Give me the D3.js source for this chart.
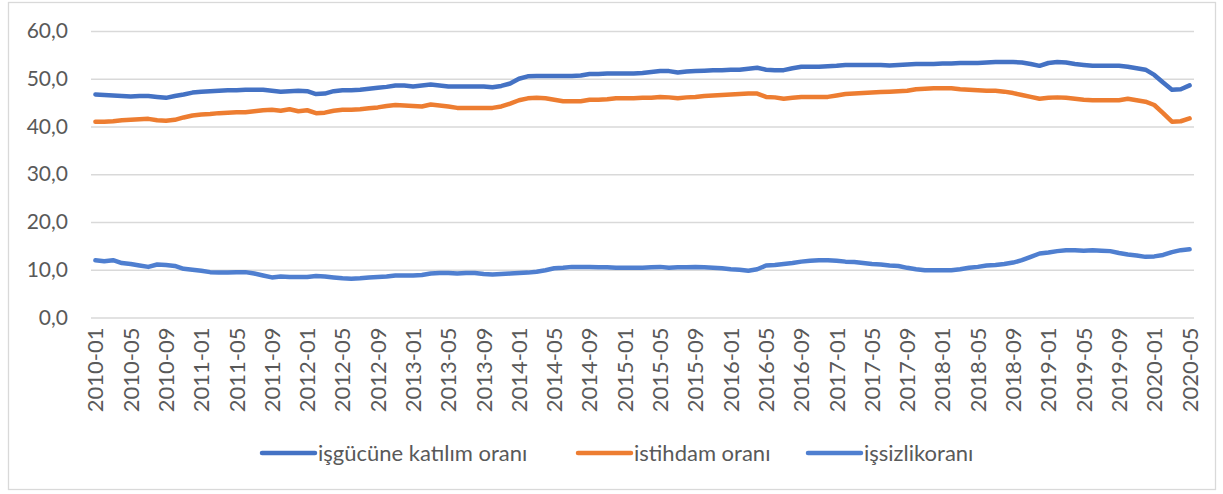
<!DOCTYPE html>
<html lang="tr">
<head>
    <meta charset="UTF-8">
    <title>İşgücü göstergeleri</title>
    <script src="https://cdn.jsdelivr.net/npm/d3@7/dist/d3.min.js"></script>
    <style>
        body { margin: 0; background: #fff; }
        svg { display: block; font-family: Lato, "Open Sans", sans-serif; }
    </style>
</head>
<body>
<script>
    // aylik veriler, 2010-01 .. 2020-05
    const firstMonth = new Date(2010, 0, 1);
    const lastMonth = new Date(2020, 4, 1);

    const yTicks = [0, 10, 20, 30, 40, 50, 60];
    const seriesNames = ['işgücüne katılım oranı', 'istihdam oranı', 'işsizlikoranı'];
    const seriesColors = ['#4472C4', '#ED7D31', '#4F7FD0'];

    // isgucune katilim orani
    const katilim = [
        46.7, 46.6, 46.5, 46.4, 46.3, 46.4, 46.4, 46.2, 46.0, 46.4, 46.7, 47.1,
        47.3, 47.4, 47.5, 47.6, 47.6, 47.7, 47.7, 47.7, 47.5, 47.3, 47.4, 47.5,
        47.4, 46.8, 46.9, 47.4, 47.6, 47.6, 47.7, 47.9, 48.1, 48.3, 48.6, 48.6,
        48.4, 48.6, 48.8, 48.6, 48.4, 48.4, 48.4, 48.4, 48.4, 48.2, 48.5, 49.0,
        50.0, 50.5, 50.6, 50.6, 50.6, 50.6, 50.6, 50.7, 51.0, 51.0, 51.1, 51.1,
        51.1, 51.1, 51.2, 51.4, 51.6, 51.6, 51.3, 51.5, 51.6, 51.7, 51.8, 51.8,
        51.9, 51.9, 52.1, 52.3, 51.9, 51.8, 51.8, 52.2, 52.5, 52.5, 52.5, 52.6,
        52.7, 52.9, 52.9, 52.9, 52.9, 52.9, 52.8, 52.9, 53.0, 53.1, 53.1, 53.1,
        53.2, 53.2, 53.3, 53.3, 53.3, 53.4, 53.5, 53.5, 53.5, 53.4, 53.1, 52.7,
        53.3, 53.5, 53.4, 53.1, 52.9, 52.7, 52.7, 52.7, 52.7, 52.5, 52.2, 51.9,
        50.8, 49.2, 47.7, 47.8, 48.6
    ];

    // istihdam orani
    const istihdam = [
        41.0, 41.0, 41.1, 41.3, 41.4, 41.5, 41.6, 41.3, 41.2, 41.4, 41.9, 42.3,
        42.5, 42.6, 42.8, 42.9, 43.0, 43.0, 43.2, 43.4, 43.5, 43.3, 43.6, 43.2,
        43.4, 42.8, 42.9, 43.3, 43.5, 43.5, 43.6, 43.8, 44.0, 44.3, 44.5, 44.4,
        44.3, 44.2, 44.6, 44.4, 44.2, 43.9, 43.9, 43.9, 43.9, 43.9, 44.2, 44.8,
        45.5, 45.9, 46.0, 45.9, 45.6, 45.3, 45.3, 45.3, 45.6, 45.6, 45.7, 45.9,
        45.9, 45.9, 46.0, 46.0, 46.2, 46.1, 45.9, 46.1, 46.2, 46.4, 46.5, 46.6,
        46.7, 46.8, 46.9, 46.9, 46.2, 46.1, 45.8, 46.0, 46.2, 46.2, 46.2, 46.2,
        46.5, 46.8, 46.9, 47.0, 47.1, 47.2, 47.3, 47.4, 47.5, 47.8, 47.9, 48.0,
        48.0, 48.0, 47.8, 47.7, 47.6, 47.5, 47.5, 47.3, 47.0, 46.6, 46.2, 45.8,
        46.0, 46.1, 46.0, 45.8, 45.6, 45.5, 45.5, 45.5, 45.5, 45.8, 45.5, 45.2,
        44.5, 42.8, 41.0, 41.1, 41.7
    ];

    // issizlik orani
    const issizlik = [
        12.0, 11.8, 12.0, 11.4, 11.2, 10.9, 10.6, 11.1, 11.0, 10.8, 10.2, 10.0,
        9.8, 9.5, 9.4, 9.4, 9.5, 9.5, 9.2, 8.8, 8.4, 8.6, 8.5, 8.5,
        8.5, 8.7, 8.6, 8.4, 8.2, 8.1, 8.2, 8.4, 8.5, 8.6, 8.8, 8.8,
        8.8, 8.9, 9.2, 9.3, 9.3, 9.2, 9.3, 9.3, 9.1, 9.0, 9.1, 9.2,
        9.3, 9.4, 9.6, 9.9, 10.3, 10.4, 10.6, 10.6, 10.6, 10.5, 10.5, 10.4,
        10.4, 10.4, 10.4, 10.5, 10.6, 10.4, 10.5, 10.5, 10.6, 10.5, 10.4, 10.3,
        10.1, 10.0, 9.8, 10.1, 10.9, 11.0, 11.2, 11.4, 11.7, 11.9, 12.0, 12.0,
        11.9, 11.7, 11.6, 11.4, 11.2, 11.1, 10.9, 10.8, 10.4, 10.1, 9.9, 9.9,
        9.9, 9.9, 10.1, 10.4, 10.6, 10.9, 11.0, 11.2, 11.5, 12.0, 12.7, 13.4,
        13.6, 13.9, 14.1, 14.1, 14.0, 14.1, 14.0, 13.9, 13.5, 13.2, 13.0, 12.7,
        12.8, 13.1, 13.7, 14.1, 14.3
    ];

    const width = 1223, height = 494;
    const plot = { left: 91, right: 1194, top: 31, bottom: 317.5 };

    const fmtMonth = d3.timeFormat('%Y-%m');
    const months = d3.timeMonth.range(firstMonth, d3.timeMonth.offset(lastMonth, 1)).map(fmtMonth);

    const svg = d3.select('body')
        .append('svg')
        .attr('width', width)
        .attr('height', height);

    // chart frame
    svg.append('rect')
        .attr('x', 8.5).attr('y', 2.5)
        .attr('width', 1207).attr('height', 487)
        .attr('fill', '#fff')
        .attr('stroke', '#d9d9d9')
        .attr('stroke-width', 1.3);

    let x = d3.scaleBand().domain(months).range([plot.left, plot.right]);
    let y = d3.scaleLinear().domain([0, 60]).range([plot.bottom, plot.top]);
    const cx = d => x(d) + x.bandwidth() / 2;

    const trFormat = d3.formatLocale({ decimal: ',', thousands: '.', grouping: [3], currency: ['', ' TL'] }).format('.1f');

    // y axis with gridlines
    let yAxis = svg.append('g')
        .attr('transform', `translate(${plot.left},0)`)
        .call(d3.axisLeft(y).tickValues(yTicks).tickFormat(trFormat)
            .tickSize(-(plot.right - plot.left)).tickPadding(23));
    yAxis.select('.domain').remove();
    yAxis.selectAll('line').attr('stroke', '#d9d9d9').attr('stroke-width', 1.3);
    yAxis.selectAll('text')
        .attr('fill', '#595959')
        .style('font-size', '21px')
        .style('font-family', 'Lato, sans-serif');

    // x axis labels, every 4th month
    let xLabels = months.filter((m, i) => i % 4 === 0);
    svg.append('g')
        .selectAll('text')
        .data(xLabels)
        .join('text')
        .attr('transform', d => `translate(${cx(d)},${plot.bottom + 10}) rotate(-90)`)
        .attr('text-anchor', 'end')
        .attr('dy', '0.36em')
        .attr('fill', '#595959')
        .style('font-size', '22px')
        .text(d => d);

    // series lines
    const allSeries = [katilim, istihdam, issizlik];
    const line = d3.line()
        .x((v, i) => cx(months[i]))
        .y(v => y(v));

    svg.append('g')
        .selectAll('path')
        .data(allSeries)
        .join('path')
        .attr('d', d => line(d))
        .attr('fill', 'none')
        .attr('stroke', (d, i) => seriesColors[i])
        .attr('stroke-width', 4.5)
        .attr('stroke-linejoin', 'round')
        .attr('stroke-linecap', 'round');

    // legend
    const legendX = [262, 578, 808];
    let legend = svg.append('g')
        .selectAll('g')
        .data(seriesNames)
        .join('g')
        .attr('transform', (d, i) => `translate(${legendX[i]},453)`);
    legend.append('line')
        .attr('x1', 0).attr('x2', 53)
        .attr('stroke', (d, i) => seriesColors[i])
        .attr('stroke-width', 4.5)
        .attr('stroke-linecap', 'round');
    legend.append('text')
        .attr('x', 56)
        .attr('dy', '0.36em')
        .attr('fill', '#595959')
        .style('font-size', '22px')
        .text(d => d);
</script>
</body>
</html>
